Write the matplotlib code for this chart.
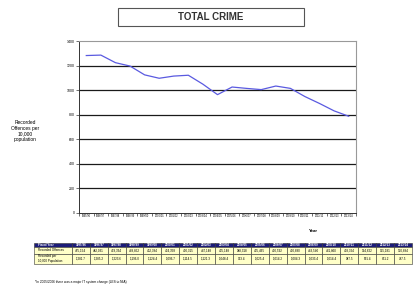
import matplotlib
matplotlib.use("Agg")
import matplotlib.pyplot as plt
from matplotlib.patches import Rectangle

plt.rcParams['font.family'] = ['Liberation Sans', 'DejaVu Sans']

years = ['1995/96', '1996/97', '1997/98', '1998/99', '1999/00', '2000/01',
         '2001/02', '2002/03', '2003/04', '2004/05', '2005/06', '2006/07',
         '2007/08', '2008/09', '2009/10', '2010/11', '2011/12', '2012/13',
         '2013/14']
rate = [1281.7, 1285.2, 1223.6, 1196.0, 1124.4, 1096.7, 1114.5, 1121.3,
        1048.4, 963.4, 1025.4, 1014.2, 1004.3, 1033.4, 1014.4, 947.5,
        891.4, 831.2, 787.5]
offences = ['475,154', '482,031', '459,334', '449,852', '432,384', '424,358',
            '430,315', '447,148', '425,148', '388,318', '425,465', '420,592',
            '420,880', '443,540', '441,860', '418,324', '394,622', '365,181',
            '350,894']
yticks = [0, 200, 400, 600, 800, 1000, 1200, 1400]

fig = plt.figure(figsize=(4.15, 2.90), dpi=100)
fig.patch.set_facecolor('white')

# title box
fig.patches.append(Rectangle((118/415, 1-26/290), 186/415, 18.5/290,
                             transform=fig.transFigure, fill=False,
                             edgecolor='#555555', linewidth=0.8))
fig.text(211/415, 1-16.5/290, 'TOTAL CRIME', ha='center', va='center',
         fontsize=7, fontweight='bold', color='#333333')

# main chart
ax = fig.add_axes([79/415, 1-213/290, 277/415, 172/290])
x = list(range(len(years)))
ax.plot(x, rate, color='#5a5ae0', linewidth=0.9)
ax.set_xlim(-0.5, len(years) - 0.5)
ax.set_ylim(0, 1400)
ax.set_yticks(yticks)
ax.set_yticklabels([str(v) for v in yticks], fontsize=2.5)
ax.set_xticks([i - 0.5 for i in range(len(years) + 1)])
ax.set_xticklabels([])
ax.set_xticks(x, minor=True)
ax.set_xticklabels(years, minor=True, fontsize=1.9)
ax.tick_params(axis='x', which='minor', length=0, pad=1)
ax.tick_params(axis='x', which='major', length=2, width=0.4)
ax.tick_params(axis='y', length=2, width=0.4, pad=1)
for v in yticks[1:-1]:
    ax.axhline(v, color='#1a1a1a', linewidth=0.9, zorder=0)
for side in ['top', 'right']:
    ax.spines[side].set_color('#999999')
    ax.spines[side].set_linewidth(0.8)
for side in ['left', 'bottom']:
    ax.spines[side].set_color('#333333')
    ax.spines[side].set_linewidth(0.7)

fig.text(25/415, 1-131/290, 'Recorded\nOffences per\n10,000\npopulation',
         ha='center', va='center', fontsize=3.5, linespacing=1.1)
fig.text(313/415, 1-231/290, 'Year', ha='center', va='center',
         fontsize=3.2, fontweight='bold')

# data table
tax = fig.add_axes([34/415, 1-264/290, 378/415, 21/290])
tax.axis('off')
cells = [['Fiscal Year'] + years,
         ['Recorded Offences'] + offences,
         ['Recorded per\n10,000 Population'] + ['{:,.1f}'.format(v) for v in rate]]
widths = [0.1] + [0.9 / len(years)] * len(years)
tbl = tax.table(cellText=cells, colWidths=widths, loc='center',
                bbox=[0, 0, 1, 1], cellLoc='center')
tbl.auto_set_font_size(False)
heights = [0.2, 0.3, 0.5]
for (r, c), cell in tbl.get_celld().items():
    cell.set_height(heights[r])
    cell.set_linewidth(0.4)
    cell.set_edgecolor('#333333')
    cell.get_text().set_fontsize(2.2)
    if r == 0:
        cell.set_facecolor('#1c1c78')
        cell.get_text().set_color('white')
        cell.get_text().set_fontweight('bold')
    else:
        cell.set_facecolor('#ffffc8')
    if c == 0:
        cell.get_text().set_ha('left')
        cell._loc = 'left'

fig.text(35/415, 1-282/290,
         '*In 2005/2006 there was a major IT system change (LES to NIA)',
         ha='left', va='center', fontsize=2.3)

fig.savefig('out.png', dpi=100)
